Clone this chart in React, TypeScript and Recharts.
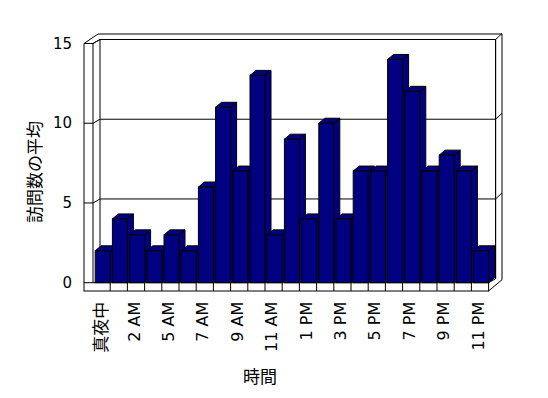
import React from 'react';
import { BarChart, Bar, XAxis, YAxis, CartesianGrid } from 'recharts';

// ---- data ----
const hours = ['真夜中', '1 AM', '2 AM', '3 AM', '5 AM', '6 AM', '7 AM', '8 AM', '9 AM', '10 AM', '11 AM', '12 PM',
  '1 PM', '2 PM', '3 PM', '4 PM', '5 PM', '6 PM', '7 PM', '8 PM', '9 PM', '10 PM', '11 PM'];
const visits = [2, 4, 3, 2, 3, 2, 6, 11, 7, 13, 3, 9, 4, 10, 4, 7, 7, 14, 12, 7, 8, 7, 2];
const yTicks = [0, 5, 10, 15];
const yTitle = '訪問数の平均';
const xTitle = '時間';

const data = hours.map((h, i) => ({ hour: h, visits: visits[i] }));

// ---- layout ----
const W = 548;
const H = 398;
const M = { top: 43.5, right: 59.4, bottom: 15.3, left: 33 };
const Y_AXIS_W = 60;
const X_AXIS_H = 100;
const PL = M.left + Y_AXIS_W;
const PT = M.top;
const PW = W - M.left - Y_AXIS_W - M.right;
const PH = H - M.top - M.bottom - X_AXIS_H;
const PR = PL + PW;
const PB = PT + PH;
const BAND = PW / hours.length;
const DEPTH = { dx: 6, dy: -5 };
const WALL = { dx: 7, dy: -4 };
const FRAME_L = 84;
const FRAME_R = 502;
const SLAB = 8.3;
const NAVY = '#000080';
const LATIN = '"DejaVu Sans", sans-serif';
const CJK = '"Noto Sans CJK JP", sans-serif';

const Box3D = (p: any) => {
  const { x, y, width, height } = p;
  if (height == null || isNaN(height)) return null;
  const X = x + 1.2;
  const w = width;
  const d = DEPTH;
  return (
    <g stroke="#000" strokeWidth={1} fill={NAVY} strokeLinejoin="miter">
      <polygon points={`${X + w},${y} ${X + w + d.dx},${y + d.dy} ${X + w + d.dx},${y + height + d.dy} ${X + w},${y + height}`} />
      <polygon points={`${X},${y} ${X + d.dx},${y + d.dy} ${X + w + d.dx},${y + d.dy} ${X + w},${y}`} />
      <rect x={X} y={y} width={w} height={height} />
    </g>
  );
};

const YTick = (p: any) => {
  const { x, y, payload } = p;
  const v = payload?.value;
  return (
    <g>
      <text x={x - 21} y={y} textAnchor="end" dominantBaseline="central" fontSize={15} fontFamily={LATIN} fill="#000">
        {v}
      </text>
      {v > 0 && (
        <g stroke="#000" strokeWidth={1} fill="none">
          <line x1={FRAME_L} y1={y} x2={PL} y2={y} />
          <line x1={PL} y1={y} x2={PL + WALL.dx} y2={y + WALL.dy} />
          <line x1={PR + WALL.dx} y1={y + WALL.dy} x2={FRAME_R} y2={y + WALL.dy - 6} />
        </g>
      )}
    </g>
  );
};

const XTick = (p: any) => {
  const { x, y, payload } = p;
  const idx = payload?.index ?? p.index ?? 0;
  const half = payload?.offset || BAND / 2;
  const label = String(payload?.value ?? '');
  const isCjk = /[^\x00-\x7f]/.test(label);
  return (
    <g>
      {idx > 0 && <line x1={x - half} y1={y} x2={x - half} y2={y + SLAB} stroke="#000" strokeWidth={1} />}
      {idx % 2 === 0 && (
        <text
          transform={`translate(${x - 2},${y + 19}) rotate(-90)`}
          textAnchor="end"
          dominantBaseline="central"
          fontSize={isCjk ? 17 : 16}
          fontFamily={isCjk ? CJK : LATIN}
          fill="#000"
        >
          {label}
        </text>
      )}
    </g>
  );
};

const Frame = () => (
  <g>
    <g stroke="#000" strokeWidth={1} fill="none">
      {/* floor slab */}
      <rect x={FRAME_L} y={PB} width={PR - FRAME_L} height={SLAB} fill="#fff" />
      {/* left wall */}
      <line x1={FRAME_L} y1={PT} x2={FRAME_L} y2={PB} />
      <line x1={PL} y1={PT} x2={PL} y2={PB} />
      <line x1={FRAME_L} y1={PT} x2={PL} y2={PT} />
      <line x1={FRAME_L} y1={PT} x2={PL + WALL.dx - 2} y2={PT - 9.5} />
      <line x1={PL} y1={PT} x2={PL + WALL.dx} y2={PT + WALL.dy} />
      {/* top */}
      <line x1={PL + WALL.dx - 2} y1={PT - 9.5} x2={FRAME_R} y2={PT - 9.5} />
      <line x1={PL + WALL.dx} y1={PT + WALL.dy} x2={PR + WALL.dx} y2={PT + WALL.dy} />
      {/* right wall */}
      <line x1={PR + WALL.dx} y1={PT + WALL.dy} x2={PR + WALL.dx} y2={PB + WALL.dy} />
      <line x1={FRAME_R} y1={PT - 9.5} x2={FRAME_R} y2={PB - 3} />
      <line x1={FRAME_R} y1={PB - 3} x2={PR} y2={PB + SLAB} />
      <line x1={PR} y1={PB} x2={PR + WALL.dx} y2={PB + WALL.dy} />
    </g>
    <text
      transform={`translate(${33},${172}) rotate(-90)`}
      textAnchor="middle"
      dominantBaseline="central"
      fontSize={17}
      fontFamily={CJK}
      fill="#000"
    >
      {yTitle}
    </text>
    <text x={260} y={375} textAnchor="middle" dominantBaseline="central" fontSize={17} fontFamily={CJK} fill="#000">
      {xTitle}
    </text>
  </g>
);

const hGen = (p: any) => {
  const s = p?.yAxis?.scale;
  const top = p?.offset?.top ?? PT;
  const h = p?.offset?.height ?? PH;
  return [5, 10, 15].map((v) => (typeof s === 'function' ? s(v) : top + h * (1 - v / 15)) + WALL.dy);
};

const vGen = (p: any) => {
  const left = p?.offset?.left ?? PL;
  const w = p?.offset?.width ?? PW;
  return [left + WALL.dx, left + w + WALL.dx];
};

export default function App() {
  return (
    <div style={{ position: 'absolute', left: 0, top: 0, width: W, height: H, background: '#fff' }}>
      <BarChart width={W} height={H} data={data} margin={M} barSize={15}>
        <CartesianGrid
          x={PL + WALL.dx}
          y={PT + WALL.dy}
          width={PW}
          height={PH}
          stroke="#000"
          strokeOpacity={1}
          horizontalCoordinatesGenerator={hGen}
          verticalCoordinatesGenerator={vGen}
        />
        <Frame />
        <XAxis
          dataKey="hour"
          interval={0}
          height={X_AXIS_H}
          tickSize={0}
          tickMargin={0}
          axisLine={false}
          tickLine={false}
          tick={<XTick />}
        />
        <YAxis
          type="number"
          domain={[0, 15]}
          ticks={yTicks}
          width={Y_AXIS_W}
          tickSize={0}
          tickMargin={0}
          axisLine={false}
          tickLine={false}
          tick={<YTick />}
        />
        <Bar dataKey="visits" isAnimationActive={false} shape={<Box3D />} />
      </BarChart>
    </div>
  );
}
